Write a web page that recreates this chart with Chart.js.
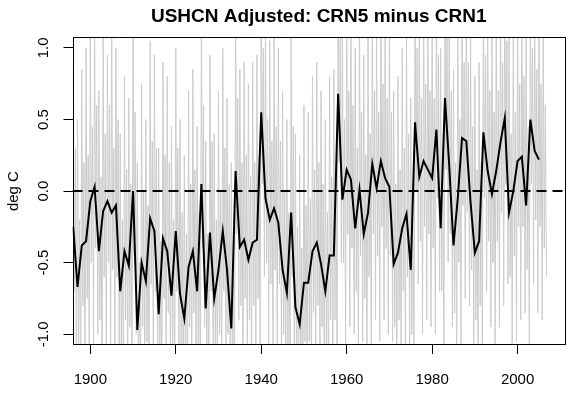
<!DOCTYPE html>
<html>
<head>
<meta charset="utf-8">
<title>USHCN Adjusted: CRN5 minus CRN1</title>
<script src="https://cdn.jsdelivr.net/npm/chart.js@4.4.1/dist/chart.umd.min.js"></script>
<style>
  html, body { margin: 0; padding: 0; background: #fff; }
</style>
</head>
<body>
<canvas id="chart" width="583" height="398"></canvas>
<script>
// Annual means (black line), one value per year from 1896
const annualStart = 1896;
const annualValues = [
    -0.25, -0.67, -0.38, -0.35,                                   // 1896-1899
    -0.07, 0.03, -0.42, -0.14, -0.07, -0.15, -0.10, -0.70, -0.42, -0.52, // 1900s
    0.00, -0.97, -0.50, -0.63, -0.19, -0.28, -0.86, -0.33, -0.42, -0.73, // 1910s
    -0.28, -0.72, -0.89, -0.53, -0.42, -0.70, 0.05, -0.82, -0.29, -0.75, // 1920s
    -0.55, -0.28, -0.55, -0.96, 0.14, -0.39, -0.34, -0.48, -0.36, -0.34, // 1930s
    0.55, -0.05, -0.20, -0.12, -0.22, -0.55, -0.71, -0.15, -0.81, -0.93, // 1940s
    -0.64, -0.64, -0.42, -0.36, -0.51, -0.70, -0.45, -0.45, 0.68, -0.06, // 1950s
    0.15, 0.08, -0.26, 0.01, -0.30, -0.15, 0.19, 0.02, 0.21, 0.09,       // 1960s
    0.03, -0.51, -0.43, -0.26, -0.16, -0.55, 0.48, 0.10, 0.21, 0.15,     // 1970s
    0.09, 0.43, -0.26, 0.65, 0.18, -0.38, -0.05, 0.37, 0.35, -0.08,      // 1980s
    -0.43, -0.35, 0.41, 0.14, -0.02, 0.14, 0.34, 0.51, -0.15, 0.00,      // 1990s
    0.21, 0.24, -0.10, 0.50, 0.28, 0.22                                  // 2000-2005
];

// Sub-annual values (grey trace), four per year from 1896 (estimated)
const greyStart = 1896;
const greyPerYear = 4;
const greyValues = [
    0.9, -0.7, 0.3, -1.3,      0.5, -1.1, -0.2, -1.4,      // 1896-97
    0.85, -0.8, 0.2, -1.35,    1.0, -0.75, 0.25, -1.2,     // 1898-99
    1.2, -0.5, 0.45, -1.1,     1.25, -0.4, 0.6, -1.0,      // 1900-01
    0.7, -0.9, 0.1, -1.4,      1.1, -0.6, 0.4, -1.2,
    0.95, -0.5, 0.6, -1.15,    1.3, -0.55, 0.3, -1.25,
    1.0, -0.6, 0.5, -1.1,      0.4, -1.15, -0.2, -1.4,
    0.8, -0.9, 0.15, -1.35,    0.65, -0.95, 0.05, -1.3,
    1.3, -0.45, 0.55, -1.0,    0.2, -1.35, -0.5, -1.5,     // 1910-11
    0.75, -0.95, 0.0, -1.35,   0.5, -1.05, -0.1, -1.4,
    1.05, -0.65, 0.35, -1.2,   0.95, -0.7, 0.3, -1.25,
    0.3, -1.3, -0.35, -1.45,   0.9, -0.75, 0.25, -1.3,
    0.8, -0.85, 0.2, -1.3,     0.45, -1.15, -0.2, -1.45,
    1.0, -0.7, 0.3, -1.25,     0.5, -1.1, -0.15, -1.45,    // 1920-21
    0.25, -1.3, -0.3, -1.5,    0.7, -0.95, 0.05, -1.35,
    0.85, -0.85, 0.15, -1.3,   0.45, -1.1, -0.15, -1.4,
    1.35, -0.4, 0.6, -0.95,    0.35, -1.25, -0.3, -1.5,
    0.95, -0.7, 0.35, -1.25,   0.4, -1.15, -0.2, -1.45,
    0.7, -1.0, 0.0, -1.35,     1.0, -0.7, 0.3, -1.25,      // 1930-31
    0.65, -1.0, 0.05, -1.35,   0.2, -1.35, -0.45, -1.5,
    1.4, -0.3, 0.65, -0.9,     0.85, -0.8, 0.2, -1.3,
    0.9, -0.75, 0.25, -1.25,   0.75, -0.9, 0.1, -1.35,
    0.9, -0.8, 0.2, -1.3,      0.95, -0.75, 0.25, -1.25,
    1.5, 0.05, 1.0, -0.6,      1.2, -0.5, 0.5, -1.1,       // 1940-41
    1.05, -0.65, 0.35, -1.2,   1.1, -0.55, 0.45, -1.15,
    1.0, -0.65, 0.35, -1.2,    0.7, -1.0, 0.0, -1.35,
    0.5, -1.1, -0.15, -1.45,   1.1, -0.6, 0.45, -1.2,
    0.4, -1.25, -0.25, -1.5,   0.25, -1.35, -0.4, -1.5,
    0.6, -1.05, -0.1, -1.4,    0.55, -1.05, -0.05, -1.4,   // 1950-51
    0.8, -0.85, 0.15, -1.3,    0.9, -0.8, 0.2, -1.25,
    0.7, -0.95, 0.05, -1.35,   0.5, -1.1, -0.15, -1.45,
    0.8, -0.9, 0.1, -1.3,      0.85, -0.9, 0.15, -1.3,
    1.5, 0.2, 1.1, -0.5,       1.2, -0.5, 0.5, -1.1,
    1.35, -0.3, 0.7, -0.95,    1.3, -0.4, 0.6, -1.0,       // 1960-61
    1.0, -0.7, 0.3, -1.25,     1.25, -0.45, 0.55, -1.05,
    0.95, -0.75, 0.25, -1.25,  1.1, -0.6, 0.4, -1.15,
    1.4, -0.3, 0.7, -0.9,      1.2, -0.45, 0.55, -1.05,
    1.4, -0.25, 0.75, -0.9,    1.3, -0.4, 0.65, -1.0,
    1.25, -0.45, 0.55, -1.05,  0.7, -0.95, 0.05, -1.35,    // 1970-71
    0.8, -0.9, 0.15, -1.3,     1.0, -0.7, 0.3, -1.2,
    1.1, -0.6, 0.4, -1.15,     0.65, -1.0, 0.0, -1.35,
    1.5, 0.0, 1.0, -0.65,      1.3, -0.35, 0.65, -1.0,
    1.4, -0.25, 0.75, -0.9,    1.35, -0.3, 0.7, -0.95,
    1.3, -0.4, 0.65, -1.0,     1.5, -0.05, 0.95, -0.7,     // 1980-81
    1.0, -0.7, 0.3, -1.2,      1.5, 0.15, 1.1, -0.5,
    1.35, -0.3, 0.7, -0.95,    0.85, -0.85, 0.2, -1.3,
    1.2, -0.5, 0.5, -1.1,      1.45, -0.1, 0.9, -0.75,
    1.45, -0.15, 0.9, -0.8,    1.15, -0.55, 0.45, -1.1,
    0.8, -0.9, 0.15, -1.3,     0.9, -0.8, 0.2, -1.25,      // 1990-91
    1.5, -0.05, 0.95, -0.7,    1.35, -0.35, 0.7, -0.95,
    1.2, -0.5, 0.55, -1.1,     1.3, -0.35, 0.7, -0.95,
    1.45, -0.15, 0.9, -0.8,    1.5, 0.05, 1.05, -0.65,
    1.1, -0.6, 0.4, -1.15,     1.2, -0.45, 0.55, -1.05,
    1.4, -0.25, 0.75, -0.9,    1.4, -0.25, 0.8, -0.85,     // 2000-01
    1.15, -0.55, 0.45, -1.1,   1.5, 0.05, 1.0, -0.65,
    1.4, -0.2, 0.85, -0.85,    1.4, -0.25, 0.75, -0.9,
    1.2, -0.4, 0.6, -0.6                                   // 2006
];

// Axes
const xTicks = [1900, 1920, 1940, 1960, 1980, 2000];
const yTicks = [-1.0, -0.5, 0.0, 0.5, 1.0];
const xRange = [1895.83, 2011.1];
const yRange = [-1.075, 1.075];

const annualPoints = annualValues.map((v, i) => ({ x: annualStart + i, y: v }));
const greyPoints = greyValues.map((v, i) => ({ x: greyStart + i / greyPerYear, y: v }));
const zeroLine = [{ x: xRange[0], y: 0 }, { x: xRange[1], y: 0 }];

Chart.defaults.font.family = "'Liberation Sans', Arial, sans-serif";
Chart.defaults.color = '#000';

// R-style box around the plot region
const plotBox = {
    id: 'plotBox',
    afterDraw(chart) {
        const { ctx, chartArea: a } = chart;
        ctx.save();
        ctx.strokeStyle = '#000';
        ctx.lineWidth = 1;
        ctx.strokeRect(Math.round(a.left) + 0.5, Math.round(a.top) + 0.5,
            Math.round(a.width) - 1, Math.round(a.height) - 1);
        ctx.restore();
    }
};

new Chart(document.getElementById('chart'), {
    type: 'line',
    data: {
        datasets: [
            {
                data: zeroLine,
                borderColor: '#000',
                borderWidth: 2,
                borderDash: [10, 6],
                pointRadius: 0,
                order: 0,
                clip: 0
            },
            {
                data: annualPoints,
                borderColor: '#000',
                borderWidth: 2,
                pointRadius: 0,
                tension: 0,
                order: 1,
                clip: 0
            },
            {
                data: greyPoints,
                borderColor: '#cccccc',
                borderWidth: 1,
                pointRadius: 0,
                tension: 0,
                order: 2,
                clip: 0
            }
        ]
    },
    options: {
        responsive: false,
        animation: false,
        devicePixelRatio: 1,
        layout: { padding: { left: 0, right: 18, top: 0, bottom: 0 } },
        plugins: {
            legend: { display: false },
            tooltip: { enabled: false },
            title: {
                display: true,
                fullSize: false,
                text: 'USHCN Adjusted: CRN5 minus CRN1',
                font: { size: 19, weight: 'bold' },
                color: '#000',
                padding: { top: 5, bottom: 9.4 }
            }
        },
        scales: {
            x: {
                type: 'linear',
                min: xRange[0],
                max: xRange[1],
                border: { display: false },
                grid: { drawOnChartArea: false, drawTicks: true, tickLength: 9, color: '#000' },
                ticks: {
                    font: { size: 15 },
                    color: '#000',
                    padding: 17,
                    maxRotation: 0,
                    callback: v => String(v)
                },
                afterBuildTicks: scale => { scale.ticks = xTicks.map(v => ({ value: v })); },
                afterFit: scale => {
                    scale.height = 53;
                    scale.paddingLeft = 0;
                    scale.paddingRight = 0;
                }
            },
            y: {
                type: 'linear',
                min: yRange[0],
                max: yRange[1],
                border: { display: false },
                grid: { drawOnChartArea: false, drawTicks: true, tickLength: 9, color: '#000' },
                ticks: {
                    font: { size: 15 },
                    color: '#000',
                    padding: 7,
                    minRotation: 90,
                    maxRotation: 90,
                    crossAlign: 'center',
                    callback: v => v.toFixed(1)
                },
                title: {
                    display: true,
                    text: 'deg C',
                    font: { size: 15 },
                    color: '#000',
                    padding: { top: 5, bottom: 0 }
                },
                afterBuildTicks: scale => { scale.ticks = yTicks.map(v => ({ value: v })); },
                afterFit: scale => {
                    scale.width = 72.5;
                    scale.paddingTop = 0;
                    scale.paddingBottom = 0;
                }
            }
        }
    },
    plugins: [plotBox]
});
</script>
</body>
</html>
